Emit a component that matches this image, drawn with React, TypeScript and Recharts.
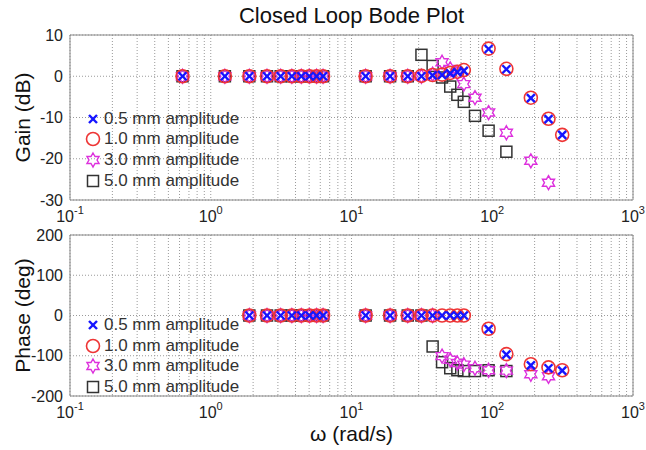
import { ScatterChart, Scatter, XAxis, YAxis, CartesianGrid, ReferenceArea, Legend } from "recharts";

const FONT = "'Liberation Sans', Arial, Helvetica, sans-serif";

// frequency axis (rad/s)
const decades = [0.1, 1, 10, 100, 1000];
const minorSteps = [2, 3, 4, 5, 6, 7, 8, 9];
const gainTicks = [-30, -20, -10, 0, 10];
const phaseTicks = [-200, -100, 0, 100, 200];

// ---- gain (dB) ----
const gainW05 = [0.63, 1.26, 1.88, 2.51, 3.14, 3.77, 4.4, 5.03, 5.65, 6.28, 12.6, 18.8, 25.1, 31.4, 37.7, 44.0, 50.3, 56.5, 62.8, 94.2, 126, 188, 251, 314];
const gain05 = [0, 0, 0, 0, 0, 0, 0, 0, 0, 0, 0, 0, 0, 0, 0.2, 0.3, 0.7, 1.0, 1.3, 6.6, 1.7, -5.3, -10.4, -14.2];
const gain10 = [0, 0, 0, 0, 0, 0, 0, 0, 0, 0, 0, 0, 0, 0.1, 0.3, 0.4, 0.8, 1.1, 1.5, 6.7, 1.8, -5.2, -10.3, -14.2];

const gainW30 = [0.63, 1.26, 1.88, 2.51, 3.14, 3.77, 4.4, 5.03, 5.65, 6.28, 12.6, 18.8, 25.1, 31.4, 37.7, 44.0, 50.3, 56.5, 62.8, 75.4, 94.2, 126, 188, 251];
const gain30 = [0, 0, 0, 0, 0, 0, 0, 0, 0, 0, 0, 0, 0, 0, 0.5, 3.4, 1.8, 0.8, -1.9, -5.2, -8.8, -13.7, -20.5, -25.8];

const gainW50 = [0.63, 1.26, 1.88, 2.51, 3.14, 3.77, 4.4, 5.03, 5.65, 6.28, 12.6, 18.8, 25.1, 31.4, 37.7, 44.0, 50.3, 56.5, 62.8, 75.4, 94.2, 126];
const gain50 = [0, 0, 0, 0, 0, 0, 0, 0, 0, 0, 0, 0, 0, 5.2, 2.5, -0.3, -2.5, -4.5, -6.2, -9.6, -13.2, -18.3];

// ---- phase (deg) ----
const phaseW05 = [1.88, 2.51, 3.14, 3.77, 4.4, 5.03, 5.65, 6.28, 12.6, 18.8, 25.1, 31.4, 37.7, 44.0, 50.3, 56.5, 62.8, 94.2, 126, 188, 251, 314];
const phase05 = [0, 0, 0, 0, 0, 0, 0, 0, 0, 0, 0, 0, 0, 0, 0, 0, 0, -34, -97, -124, -131, -137];
const phase10 = [0, 0, 0, 0, 0, 0, 0, 0, 0, 0, 0, 0, 0, 0, 0, 0, 0, -33, -96, -121, -129, -136];

const phaseW30 = [1.88, 2.51, 3.14, 3.77, 4.4, 5.03, 5.65, 6.28, 12.6, 18.8, 25.1, 31.4, 37.7, 44.0, 50.3, 56.5, 62.8, 75.4, 94.2, 126, 188, 251];
const phase30 = [0, 0, 0, 0, 0, 0, 0, 0, 0, 0, 0, 0, 0, -101, -110, -118, -122, -131, -136, -137, -146, -151];

const phaseW50 = [1.88, 2.51, 3.14, 3.77, 4.4, 5.03, 5.65, 6.28, 12.6, 18.8, 25.1, 31.4, 37.7, 44.0, 50.3, 56.5, 62.8, 75.4, 94.2, 126];
const phase50 = [0, 0, 0, 0, 0, 0, 0, 0, 0, 0, 0, 0, -77, -116, -131, -136, -138, -138, -136, -138];

const seriesNames = ["0.5 mm amplitude", "1.0 mm amplitude", "3.0 mm amplitude", "5.0 mm amplitude"];

const gridTicks: number[] = [];
decades.forEach((d, i) => {
  gridTicks.push(d);
  if (i < decades.length - 1) minorSteps.forEach((m) => gridTicks.push(+(d * m).toPrecision(3)));
});

const toPoints = (w: number[], v: number[]) => w.map((x, i) => ({ w: x, v: v[i] }));

// markers
function XMark({ cx, cy }: any) {
  const r = 4;
  return (
    <g stroke="#1515ff" strokeWidth={2.4}>
      <line x1={cx - r} y1={cy - r} x2={cx + r} y2={cy + r} />
      <line x1={cx - r} y1={cy + r} x2={cx + r} y2={cy - r} />
    </g>
  );
}

function CircleMark({ cx, cy }: any) {
  return <circle cx={cx} cy={cy} r={6.5} fill="none" stroke="#ee3535" strokeWidth={1.6} />;
}

function HexMark({ cx, cy }: any) {
  const R = 7;
  const pts: string[] = [];
  for (let k = 0; k < 12; k++) {
    const a = (-90 + k * 30) * (Math.PI / 180);
    const rr = k % 2 === 0 ? R : R / Math.sqrt(3);
    pts.push(`${cx + rr * Math.cos(a)},${cy + rr * Math.sin(a)}`);
  }
  return <polygon points={pts.join(" ")} fill="none" stroke="#dd30dd" strokeWidth={1.4} />;
}

function SquareMark({ cx, cy }: any) {
  const h = 5.5;
  return <rect x={cx - h} y={cy - h} width={2 * h} height={2 * h} fill="none" stroke="#333" strokeWidth={1.5} />;
}

const markers = [XMark, CircleMark, HexMark, SquareMark];

function DecadeTick({ x, y, payload }: any) {
  const lg = Math.log10(payload.value);
  const exp = Math.round(lg);
  if (Math.abs(lg - exp) > 1e-6) return null;
  return (
    <text x={x} y={y + 22} textAnchor="middle" fontFamily={FONT} fontSize={16} fill="#222">
      <tspan>10</tspan>
      <tspan dy={-8} fontSize={11}>{exp}</tspan>
    </text>
  );
}

function LegendBox({ rowH }: { rowH: number }) {
  return (
    <div style={{ fontFamily: FONT, fontSize: 17, color: "#333" }}>
      {seriesNames.map((name, i) => {
        const M = markers[i];
        return (
          <div key={name} style={{ display: "flex", alignItems: "center", height: rowH, whiteSpace: "nowrap" }}>
            <svg width={18} height={18} style={{ display: "block" }}>
              <M cx={9} cy={9} />
            </svg>
            <span style={{ marginLeft: 2 }}>{name}</span>
          </div>
        );
      })}
    </div>
  );
}

const yTitle = (text: string) => (props: any) => {
  const vb = props.viewBox;
  const cy = vb.y + vb.height / 2;
  return (
    <text x={30} y={cy} transform={`rotate(-90, 30, ${cy})`} textAnchor="middle" fontFamily={FONT} fontSize={21} fill="#111">
      {text}
    </text>
  );
};

const xTitle = (props: any) => {
  const vb = props.viewBox;
  return (
    <text x={vb.x + vb.width / 2} y={vb.y + 45} textAnchor="middle" fontFamily={FONT} fontSize={21} fill="#111">
      ω (rad/s)
    </text>
  );
};

function BodePanel({
  height,
  top,
  bottom,
  yDomain,
  yTicks,
  ylabel,
  series,
  legendTop,
  withXLabel,
}: any) {
  const [y0, y1] = yDomain;
  return (
    <ScatterChart width={646} height={height} margin={{ top, right: 13, bottom: 0, left: 0 }}>
      <CartesianGrid stroke="#9a9a9a" strokeDasharray="1 2" />
      <XAxis
        dataKey="w"
        type="number"
        scale="log"
        domain={[0.1, 1000]}
        allowDataOverflow
        ticks={gridTicks}
        interval={0}
        tick={<DecadeTick />}
        tickLine={false}
        axisLine={false}
        tickSize={0}
        tickMargin={0}
        height={bottom}
        label={withXLabel ? xTitle : undefined}
      />
      <YAxis
        dataKey="v"
        type="number"
        domain={yDomain}
        ticks={yTicks}
        interval={0}
        width={70}
        tickLine={false}
        axisLine={false}
        tickSize={0}
        tickMargin={7}
        tick={{ fontFamily: FONT, fontSize: 16, fill: "#222" }}
        label={yTitle(ylabel)}
      />
      <ReferenceArea x1={0.1} x2={1000} y1={y0} y2={y1} fill="none" stroke="#888" strokeWidth={1} />
      {[3, 2, 1, 0].map((i) => (
        <Scatter
          key={seriesNames[i]}
          name={seriesNames[i]}
          data={series[i]}
          shape={markers[i]}
          isAnimationActive={false}
        />
      ))}
      <Legend
        layout="vertical"
        align="center"
        verticalAlign="middle"
        content={() => <LegendBox rowH={20.6} />}
        wrapperStyle={{ left: 84, top: legendTop, width: 180, height: 84 }}
      />
    </ScatterChart>
  );
}

export default function App() {
  const gainSeries = [
    toPoints(gainW05, gain05),
    toPoints(gainW05, gain10),
    toPoints(gainW30, gain30),
    toPoints(gainW50, gain50),
  ];
  const phaseSeries = [
    toPoints(phaseW05, phase05),
    toPoints(phaseW05, phase10),
    toPoints(phaseW30, phase30),
    toPoints(phaseW50, phase50),
  ];
  return (
    <div style={{ position: "absolute", left: 0, top: 0, width: 646, height: 450, background: "#fff" }}>
      <div
        style={{
          position: "absolute",
          left: 70,
          width: 563,
          top: 3,
          textAlign: "center",
          fontFamily: FONT,
          fontSize: 22,
          color: "#111",
        }}
      >
        Closed Loop Bode Plot
      </div>
      <div style={{ position: "absolute", left: 0, top: 0 }}>
        <BodePanel
          height={230}
          top={35}
          bottom={30}
          yDomain={[-30, 10]}
          yTicks={gainTicks}
          ylabel="Gain (dB)"
          series={gainSeries}
          legendTop={108.6}
          withXLabel={false}
        />
      </div>
      <div style={{ position: "absolute", left: 0, top: 215 }}>
        <BodePanel
          height={235}
          top={20}
          bottom={54}
          yDomain={[-200, 200]}
          yTicks={phaseTicks}
          ylabel="Phase (deg)"
          series={phaseSeries}
          legendTop={99.7}
          withXLabel
        />
      </div>
    </div>
  );
}
